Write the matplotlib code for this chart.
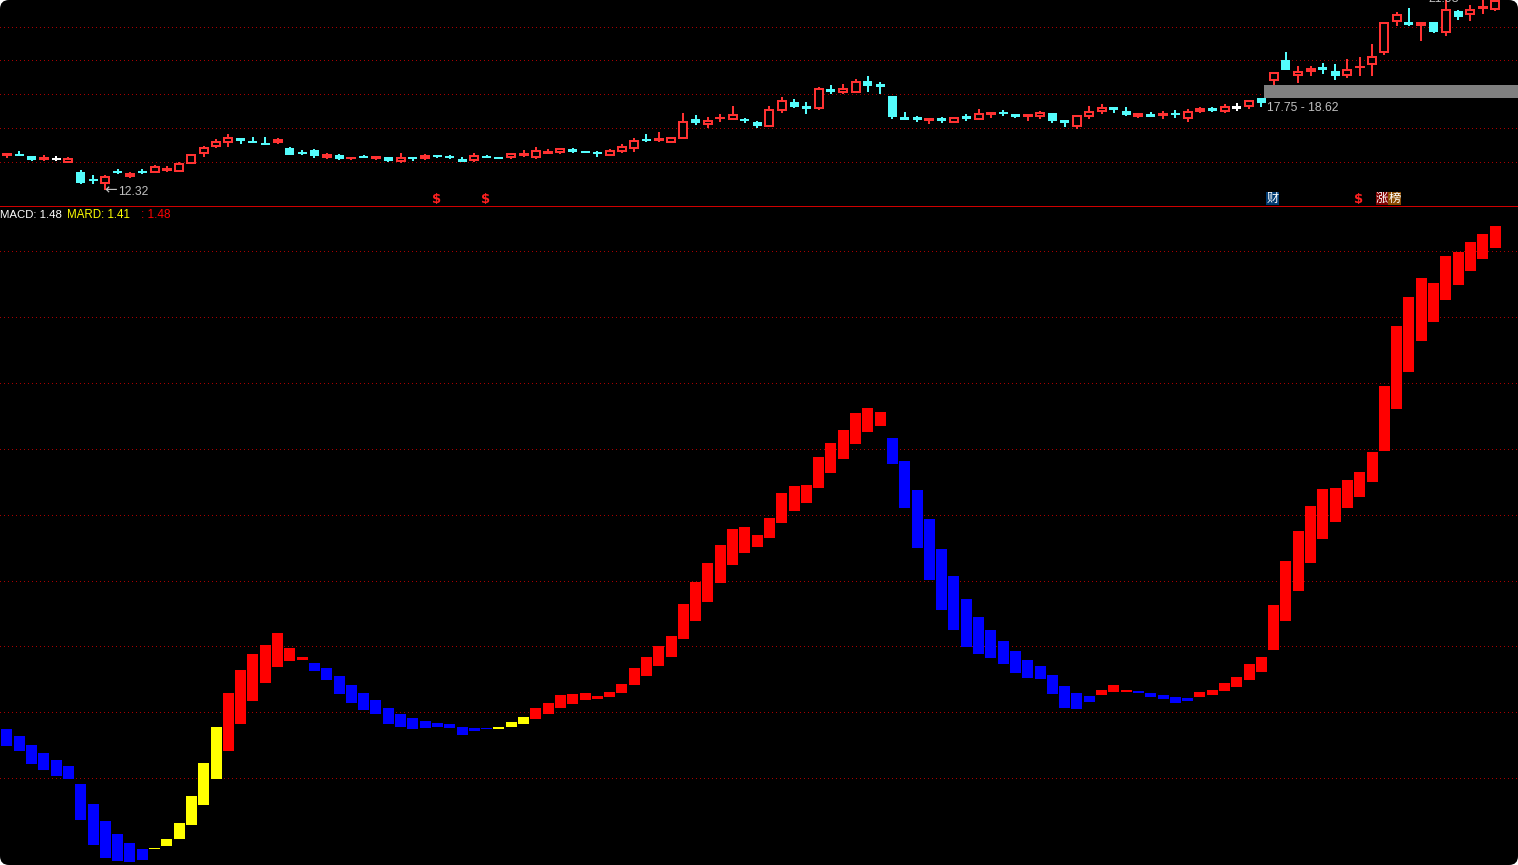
import numpy as np
import matplotlib
matplotlib.use("Agg")
import matplotlib.pyplot as plt
from matplotlib.patches import FancyBboxPatch, Rectangle

plt.rcParams['font.family'] = ['Liberation Sans', 'DejaVu Sans']

W, H = 1518, 865
STEP = 12.298  # pixels per bar

# daily prices
opens = [14.36,14.48,14.36,14.12,14.21,13.94,13.40,12.98,12.68,13.46,13.10,13.46,13.34,13.46,13.40,13.88,14.48,14.90,15.14,15.44,
         15.26,15.14,15.14,14.84,14.60,14.72,14.24,14.42,14.18,14.36,14.18,14.30,14.00,14.30,14.18,14.42,14.36,14.18,14.06,14.36,
         14.30,14.24,14.36,14.24,14.48,14.54,14.78,14.66,14.60,14.36,14.60,14.78,15.38,15.26,15.14,15.38,16.58,16.22,16.58,16.52,
         16.58,16.40,16.10,17.06,17.60,17.30,17.18,18.32,18.14,18.14,18.86,18.62,17.96,16.64,16.64,16.46,16.64,16.34,16.70,16.52,
         16.82,17.00,16.82,16.70,16.70,16.94,16.46,16.10,16.70,17.00,17.24,17.06,16.70,16.82,16.82,16.94,16.58,17.00,17.24,17.00,
         17.27,17.30,17.84,18.86,20.12,19.16,19.40,19.70,19.46,19.16,19.64,19.82,20.54,22.40,22.34,22.16,22.40,21.74,23.06,22.82,
         23.18,23.12]
closes = [14.54,14.42,14.12,14.30,14.21,14.24,12.74,12.92,13.16,13.40,13.34,13.40,13.76,13.64,13.94,14.48,14.90,15.26,15.50,15.26,
          15.20,15.08,15.38,14.42,14.54,14.36,14.48,14.18,14.30,14.30,14.36,14.06,14.30,14.18,14.42,14.36,14.30,14.00,14.42,14.30,
          14.24,14.54,14.54,14.72,14.66,14.84,14.60,14.54,14.54,14.72,14.96,15.32,15.32,15.44,15.50,16.46,16.34,16.52,16.70,16.88,
          16.46,16.16,17.18,17.72,17.30,17.24,18.44,18.26,18.44,18.86,18.56,18.56,16.70,16.58,16.58,16.64,16.46,16.70,16.64,16.94,
          17.00,16.88,16.76,16.88,17.00,16.46,16.40,16.82,17.06,17.30,17.18,16.82,16.94,16.76,16.88,16.82,17.06,17.24,17.06,17.36,
          17.27,17.72,17.54,19.40,19.52,19.46,19.64,19.52,19.16,19.58,19.76,20.36,22.40,22.88,22.28,22.40,21.80,23.18,22.70,23.18,
          23.36,23.72]
highs = [14.54,14.66,14.36,14.42,14.36,14.30,13.52,13.22,13.22,13.58,13.40,13.58,13.82,13.76,14.00,14.48,14.96,15.38,15.68,15.44,
         15.50,15.50,15.44,14.90,14.72,14.78,14.54,14.48,14.30,14.42,14.36,14.30,14.54,14.30,14.48,14.42,14.42,14.30,14.54,14.42,
         14.30,14.54,14.72,14.90,14.78,14.84,14.84,14.66,14.66,14.78,15.08,15.44,15.68,15.80,15.50,16.94,16.82,16.70,16.88,17.36,
         16.64,16.46,17.36,17.90,17.78,17.60,18.50,18.62,18.68,18.98,19.16,18.80,17.96,17.00,16.76,16.64,16.70,16.70,16.88,17.18,
         17.00,17.12,16.88,16.88,17.06,16.94,16.46,16.82,17.36,17.48,17.24,17.30,16.94,17.00,17.06,17.12,17.18,17.30,17.30,17.48,
         17.54,17.72,17.84,19.40,20.60,19.76,19.76,19.94,19.88,20.18,20.30,21.08,22.40,23.00,23.24,22.40,22.40,23.72,23.12,23.42,
         23.72,23.72]
lows = [14.24,14.42,14.06,14.06,14.06,13.94,12.68,12.68,12.32,13.28,13.04,13.28,13.34,13.40,13.40,13.88,14.30,14.84,14.90,15.08,
        15.20,15.08,15.08,14.42,14.42,14.24,14.18,14.12,14.12,14.24,14.12,14.00,13.94,14.06,14.12,14.24,14.18,14.00,14.00,14.24,
        14.18,14.18,14.30,14.18,14.48,14.48,14.54,14.54,14.30,14.36,14.54,14.60,15.20,15.20,15.14,15.38,16.22,16.04,16.40,16.52,
        16.34,16.04,16.10,16.94,17.24,16.88,17.12,18.08,18.08,18.14,18.20,18.08,16.58,16.58,16.40,16.28,16.34,16.34,16.46,16.52,
        16.64,16.76,16.64,16.46,16.58,16.34,16.10,15.98,16.58,16.88,16.94,16.76,16.64,16.76,16.58,16.64,16.40,16.94,17.00,16.94,
        17.06,17.18,17.30,18.62,19.52,18.74,19.16,19.28,18.92,19.04,19.16,19.16,20.42,22.16,22.16,21.26,21.74,21.56,22.52,22.46,
        22.88,23.06]

# floating MACD bars
macd_top = [-1.035,-1.07,-1.115,-1.155,-1.19,-1.22,-1.31,-1.41,-1.495,-1.56,-1.605,-1.635,-1.63,-1.585,-1.505,-1.37,-1.205,-1.025,-0.855,-0.74,
            -0.66,-0.615,-0.555,-0.63,-0.675,-0.705,-0.73,-0.77,-0.815,-0.855,-0.89,-0.93,-0.96,-0.98,-0.995,-1.005,-1.01,-1.025,-1.03,-1.03,
            -1.025,-1.0,-0.975,-0.93,-0.905,-0.865,-0.86,-0.855,-0.87,-0.85,-0.81,-0.73,-0.675,-0.62,-0.57,-0.41,-0.30,-0.205,-0.115,-0.035,
            -0.025,-0.065,0.02,0.145,0.18,0.185,0.325,0.395,0.46,0.545,0.57,0.55,0.42,0.305,0.16,0.015,-0.135,-0.27,-0.385,-0.475,
            -0.54,-0.595,-0.645,-0.69,-0.72,-0.765,-0.82,-0.855,-0.87,-0.84,-0.815,-0.84,-0.845,-0.855,-0.865,-0.875,-0.88,-0.85,-0.84,-0.805,
            -0.775,-0.71,-0.675,-0.415,-0.195,-0.045,0.08,0.165,0.17,0.21,0.25,0.35,0.68,0.98,1.125,1.22,1.195,1.33,1.35,1.40,
            1.44,1.48]
macd_bottom = [-1.12,-1.145,-1.21,-1.24,-1.27,-1.285,-1.49,-1.615,-1.68,-1.695,-1.70,-1.69,-1.635,-1.62,-1.585,-1.515,-1.415,-1.285,-1.145,-1.01,
               -0.895,-0.805,-0.725,-0.695,-0.69,-0.745,-0.79,-0.86,-0.905,-0.94,-0.96,-1.01,-1.025,-1.035,-1.03,-1.025,-1.03,-1.065,-1.045,-1.035,
               -1.035,-1.025,-1.01,-0.985,-0.96,-0.93,-0.91,-0.89,-0.885,-0.875,-0.855,-0.815,-0.77,-0.72,-0.675,-0.585,-0.495,-0.40,-0.305,-0.215,
               -0.155,-0.125,-0.08,-0.005,0.055,0.095,0.17,0.245,0.315,0.39,0.45,0.48,0.29,0.07,-0.13,-0.29,-0.44,-0.54,-0.625,-0.66,
               -0.68,-0.71,-0.755,-0.78,-0.785,-0.86,-0.93,-0.935,-0.90,-0.865,-0.85,-0.85,-0.855,-0.875,-0.885,-0.905,-0.895,-0.875,-0.865,-0.845,
               -0.825,-0.79,-0.75,-0.64,-0.495,-0.345,-0.205,-0.085,0.0,0.07,0.125,0.20,0.355,0.565,0.75,0.905,1.00,1.11,1.185,1.255,
               1.315,1.37]
# (first bar, colour) for each run of same coloured bars
macd_runs = [(0,'#0000ff'),(12,'#ffff00'),(18,'#ff0000'),(25,'#0000ff'),(40,'#ffff00'),(43,'#ff0000'),
             (72,'#0000ff'),(89,'#ff0000'),(92,'#0000ff'),(97,'#ff0000')]

price_grid = [22.10, 20.12, 18.08, 16.04, 14.00]
macd_grid = [1.355, 1.025, 0.695, 0.365, 0.035, -0.295, -0.62, -0.95, -1.28]
band_low, band_high = 17.84, 18.62
dollar_bars = [35, 39, 110]

fig = plt.figure(figsize=(W/100, H/100), dpi=100, facecolor='white')
fig.patches.append(FancyBboxPatch((8, 8), W-16, H-16, boxstyle='round,pad=8,rounding_size=9',
                                  transform=None, fc='black', ec='none', zorder=-5))

xlim = (-7.0/STEP, (W-7.0)/STEP)
ax1 = fig.add_axes([0, 1-210/H, 1, 210/H])
ax2 = fig.add_axes([0, 0, 1, 658/H])
ax1.set_ylim(11.12, 23.72)
ax2.set_ylim(-1.715, 1.575)
for ax in (ax1, ax2):
    ax.set_xlim(*xlim)
    ax.axis('off')

grid_style = dict(color='#a80000', lw=0.72, ls=(0, (0.5, 3.5)), dash_capstyle='butt', antialiased=False, zorder=1)
for v in price_grid:
    ax1.axhline(v, **grid_style)
for v in macd_grid:
    ax2.axhline(v, **grid_style)
ax1.axhspan(11.30, 11.36, color='#d00000', lw=0, antialiased=False, zorder=1)

# gray price gap
ax1.axhspan(band_low, band_high, xmin=1264/W, xmax=1, color='#808080', lw=0, zorder=2, antialiased=False)

# candles
px = 0.06  # price per pixel
x = np.arange(len(opens))
for i in x:
    o, c, hi, lo = opens[i], closes[i], highs[i], lows[i]
    col = '#ff3232' if c > o else ('#54fcfc' if c < o else 'white')
    ax1.plot([i, i], [lo, hi], color=col, lw=1.44, solid_capstyle='butt', antialiased=False, zorder=3)
    top, bot = max(o, c), min(o, c)
    if top-bot < 2*px:
        top = (o+c)/2 + px
        bot = top - 2*px
    w = 10 if c > o else 9
    ax1.bar(i, top-bot, bottom=bot, width=w/STEP, color=col, lw=0, antialiased=False, zorder=4)
    if c > o and top-bot > 4.5*px:
        ax1.bar(i, top-bot-4*px, bottom=bot+2*px, width=(w-4)/STEP, color='black', lw=0, antialiased=False, zorder=5)

# macd bars
colors = []
for k, (start, col) in enumerate(macd_runs):
    end = macd_runs[k+1][0] if k+1 < len(macd_runs) else len(macd_top)
    colors += [col] * (end-start)
top = np.array(macd_top)
bot = np.array(macd_bottom)
ax2.bar(np.arange(len(top)), top-bot, bottom=bot, width=11/STEP, color=colors, lw=0, antialiased=False, zorder=3)

# labels
def label(xp, yp, s, color, size=8.7, **kw):
    fig.text(xp/W, 1-yp/H, s, color=color, fontsize=size, va='center', ha=kw.pop('ha', 'left'), **kw)

label(0, 215.5, 'MACD: 1.48', 'white', size=8.2)
label(67, 215.5, 'MARD: 1.41', '#ffff00', size=8.3)
label(141, 215.5, ': 1.48', '#ff0000', size=8.5)
label(104, 190, '←', '#c0c0c0', size=11, family='DejaVu Sans')
label(118, 192, '12.32', '#c0c0c0')
label(1267, 108, '17.75 - 18.62', '#c0c0c0')
label(1428, -1, '21.98', '#c0c0c0')

for i in dollar_bars:
    label(6+STEP*i, 199.5, '$', '#ff2020', size=9.5, ha='center', fontweight='bold', family='DejaVu Sans')

for x0, x1, s, bg in [(1266, 1279, '财', '#003a70'), (1376, 1388, '涨', '#800000'), (1388, 1401, '榜', '#8a4b00')]:
    fig.patches.append(Rectangle((x0, H-205), x1-x0, 13, transform=None, fc=bg, ec='none', zorder=6))
    fig.text((x0+x1)/2/W, 1-198.5/H, s, color='white', fontsize=8.8, ha='center', va='center',
             family=['Noto Sans CJK SC', 'DejaVu Sans'], zorder=7)

fig.savefig('out.png', dpi=100, facecolor=fig.get_facecolor())
